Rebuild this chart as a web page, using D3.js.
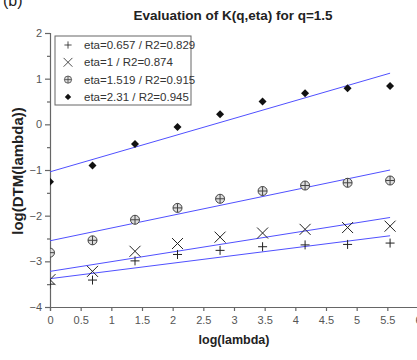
<!DOCTYPE html>
<html>
<head>
<meta charset="utf-8">
<script src="https://cdn.jsdelivr.net/npm/d3@7"></script>
<style>
  body { margin: 0; background: #fff; }
  text { font-family: Arial, "Liberation Sans", sans-serif; }
</style>
</head>
<body>
<svg id="chart" width="417" height="360"></svg>
<script>
// log(lambda) abscissae
const logLambda = [0, 0.693, 1.386, 2.079, 2.773, 3.466, 4.159, 4.852, 5.545];

const labels = [
  "eta=0.657 / R2=0.829",
  "eta=1 / R2=0.874",
  "eta=1.519 / R2=0.915",
  "eta=2.31 / R2=0.945"
];
const eta0657 = [-3.5, -3.41, -2.99, -2.85, -2.76, -2.68, -2.64, -2.63, -2.6];
const eta1    = [-3.4, -3.22, -2.78, -2.61, -2.47, -2.38, -2.3, -2.26, -2.23];
const eta1519 = [-2.81, -2.54, -2.09, -1.83, -1.63, -1.46, -1.34, -1.28, -1.23];
const eta231  = [-1.26, -0.9, -0.43, -0.06, 0.22, 0.5, 0.68, 0.79, 0.84];

// regression lines: value at first and last x
const fitStart = [-3.38, -3.22, -2.55, -1.04];
const fitEnd   = [-2.44, -2.04, -1.0, 1.12];

const markers = ["plus", "cross", "oplus", "diamond"];
const series = [eta0657, eta1, eta1519, eta231];

const xTicks = d3.range(0, 6.01, 0.5);
const yTicks = [-4, -3, -2, -1, 0, 1, 2];

const svg = d3.select("#chart");
const x = d3.scaleLinear().domain([0, 6]).range([50, 418]);
const y = d3.scaleLinear().domain([-4, 2]).range([307, 33]);

// titre
svg.append("text")
  .attr("x", 233).attr("y", 20)
  .attr("text-anchor", "middle")
  .style("font-size", "13.5px").style("font-weight", "bold").style("fill", "#222")
  .text("Evaluation of K(q,eta) for q=1.5");

svg.append("text")
  .attr("x", 3).attr("y", 6)
  .style("font-size", "16px").style("fill", "#222")
  .text("(b)");

// axe y
svg.append("g").attr("transform", "translate(50,0)")
  .call(d3.axisLeft(y).tickValues(yTicks).tickSize(5).tickPadding(3).tickFormat(d3.format("d")));
svg.append("g").attr("transform", "translate(50,0)")
  .call(d3.axisLeft(y).tickValues(d3.range(-3.5, 2, 1)).tickSize(3).tickFormat(""))
  .select(".domain").remove();

// axe x
svg.append("g").attr("transform", "translate(0,307)")
  .call(d3.axisBottom(x).tickValues(xTicks).tickSize(4).tickPadding(5).tickFormat(d3.format("")));

svg.selectAll(".domain, .tick line").attr("stroke", "#666").attr("stroke-width", 1.2);
svg.selectAll(".tick text").style("font-size", "11px").style("fill", "#555")
  .style("font-family", "Arial, 'Liberation Sans', sans-serif");

svg.append("text")
  .attr("transform", "translate(23,171) rotate(-90)")
  .attr("text-anchor", "middle")
  .style("font-size", "15px").style("font-weight", "bold").style("fill", "#222")
  .text("log(DTM(lambda))");

svg.append("text")
  .attr("x", 234).attr("y", 344)
  .attr("text-anchor", "middle")
  .style("font-size", "12.5px").style("font-weight", "bold").style("fill", "#222")
  .text("log(lambda)");

// zone de tracé
svg.append("clipPath").attr("id", "plot")
  .append("rect").attr("x", 50).attr("y", 33).attr("width", 368).attr("height", 274);

const plot = svg.append("g").attr("clip-path", "url(#plot)");

// lignes de régression
plot.selectAll("line.fit")
  .data(fitStart)
  .join("line")
  .attr("class", "fit")
  .attr("x1", x(logLambda[0]))
  .attr("x2", x(logLambda[logLambda.length - 1]))
  .attr("y1", d => y(d))
  .attr("y2", (d, i) => y(fitEnd[i]))
  .attr("stroke", "#5050ff")
  .attr("stroke-width", 1);

function drawMarker(g, type) {
  if (type === "plus") {
    g.append("path").attr("d", "M-4.5,0H4.5M0,-4.5V4.5").attr("stroke", "#222").attr("stroke-width", 1);
  } else if (type === "cross") {
    g.append("path").attr("d", "M-5.5,-5.5L5.5,5.5M-5.5,5.5L5.5,-5.5").attr("stroke", "#222").attr("stroke-width", 1);
  } else if (type === "oplus") {
    g.append("circle").attr("r", 4.5).attr("fill", "#ddd").attr("stroke", "#444").attr("stroke-width", 1);
    g.append("path").attr("d", "M-4.5,0H4.5M0,-4.5V4.5").attr("stroke", "#444").attr("stroke-width", 1);
  } else {
    g.append("path").attr("d", "M0,-4L4,0L0,4L-4,0Z").attr("fill", "#111");
  }
}

series.forEach((vals, si) => {
  plot.append("g").selectAll("g")
    .data(vals)
    .join("g")
    .attr("transform", (d, i) => `translate(${x(logLambda[i])},${y(d)})`)
    .each(function() { drawMarker(d3.select(this), markers[si]); });
});

// légende
const legend = svg.append("g");
legend.append("rect")
  .attr("x", 55).attr("y", 36).attr("width", 136).attr("height", 69)
  .attr("fill", "#fff").attr("stroke", "#666").attr("stroke-width", 1);

labels.forEach((lab, i) => {
  const row = legend.append("g").attr("transform", `translate(0,${45 + i * 17.3})`);
  const m = row.append("g").attr("transform", "translate(68,0) scale(0.8)");
  drawMarker(m, markers[i]);
  row.append("text")
    .attr("x", 84).attr("y", 4)
    .style("font-size", "11.5px").style("fill", "#333")
    .text(lab);
});
</script>
</body>
</html>
